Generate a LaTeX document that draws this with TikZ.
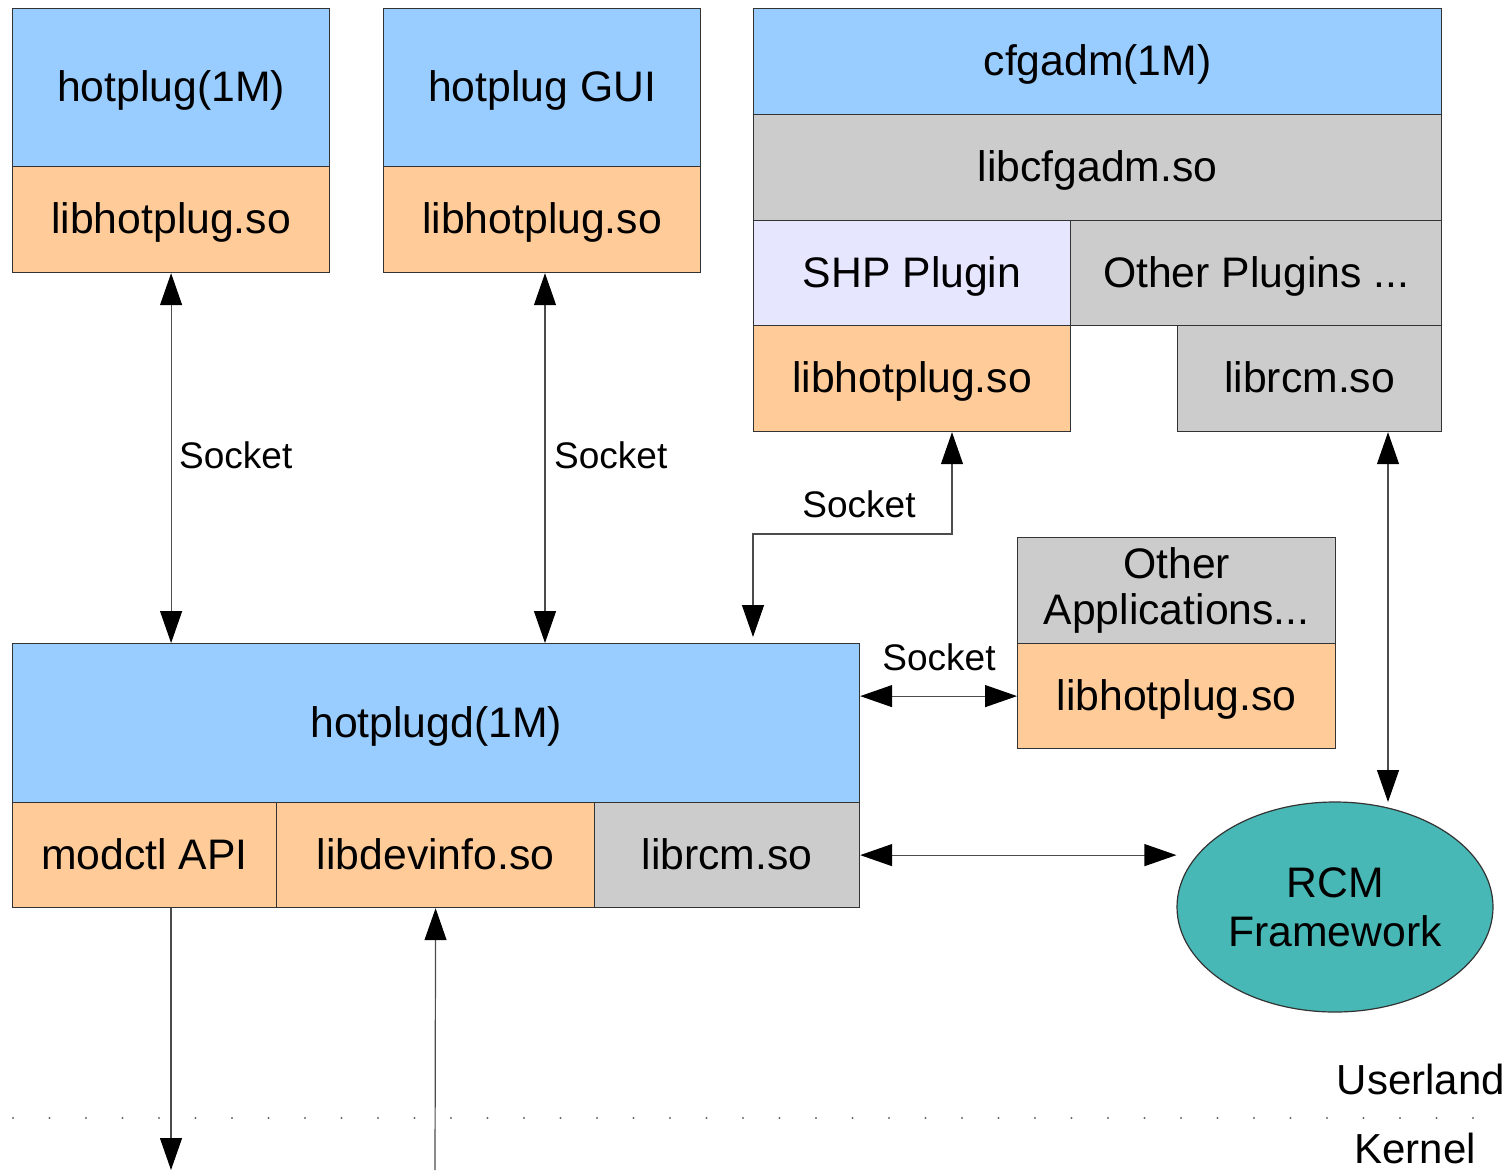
\documentclass[tikz,border=0pt]{standalone}
\usepackage{fontspec}
\setmainfont{Liberation Sans}
\usetikzlibrary{arrows.meta,positioning,shapes.geometric}
\definecolor{appBlue}{RGB}{153,204,255}
\definecolor{libOrange}{RGB}{255,204,153}
\definecolor{plugGray}{RGB}{204,204,204}
\definecolor{shpLilac}{RGB}{230,230,255}
\definecolor{rcmTeal}{RGB}{71,184,182}
\tikzset{
  layer/.style={draw=black!80, line width=1.2pt, inner sep=0pt, anchor=north west,
    align=center, font=\fontsize{42.7}{46}\selectfont},
  oneline/.style={layer, text height=37pt, text depth=9pt},
  link/.style={black!70, line width=1.2pt,
    {Triangle[length=32pt,width=22pt,color=black]}-{Triangle[length=32pt,width=22pt,color=black]}},
  oneway/.style={black!70, line width=1.2pt, -{Triangle[length=32pt,width=22pt,color=black]}},
  socklbl/.style={font=\fontsize{37}{40}\selectfont, inner sep=0pt},
  zonelbl/.style={font=\fontsize{42}{46}\selectfont, inner sep=0pt}
}
\begin{document}
\begin{tikzpicture}[x=1pt, y=-1pt]
    \useasboundingbox (0,0) rectangle (1509,1170);
    % hotplug(1M) and the GUI
    \node[oneline, fill=appBlue, minimum width=317pt, minimum height=158pt] (hpcmd) at (12,8) {hotplug(1M)};
    \node[oneline, fill=libOrange, minimum width=317pt, minimum height=106pt] (hplibA) at (12,166) {libhotplug.so};
    \node[oneline, fill=appBlue, minimum width=317pt, minimum height=158pt] (guicmd) at (383,8) {hotplug GUI};
    \node[oneline, fill=libOrange, minimum width=317pt, minimum height=106pt] (hplibB) at (383,166) {libhotplug.so};
    % cfgadm stack
    \node[oneline, fill=appBlue, minimum width=688pt, minimum height=106pt] (cfgcmd) at (753,8) {cfgadm(1M)};
    \node[oneline, fill=plugGray, minimum width=688pt, minimum height=106pt] (cfglib) at (753,114) {libcfgadm.so};
    \node[oneline, fill=shpLilac, minimum width=317pt, minimum height=105pt] (shp) at (753,220) {SHP Plugin};
    \node[oneline, fill=plugGray, minimum width=371pt, minimum height=105pt] (othplug) at (1070,220) {Other Plugins ...};
    \node[oneline, fill=libOrange, minimum width=317pt, minimum height=106pt] (shplib) at (753,325) {libhotplug.so};
    \node[oneline, fill=plugGray, minimum width=264pt, minimum height=106pt] (cfgrcm) at (1177,325) {librcm.so};
    % other applications
    \node[layer, fill=plugGray, minimum width=318pt, minimum height=106pt] (othapp) at (1017,537) {Other\\Applications...};
    \node[oneline, fill=libOrange, minimum width=318pt, minimum height=105pt] (oalib) at (1017,643) {libhotplug.so};
    % the daemon
    \node[oneline, fill=appBlue, minimum width=847pt, minimum height=159pt] (hpd) at (12,643) {hotplugd(1M)};
    \node[oneline, fill=libOrange, minimum width=264pt, minimum height=105pt] (modctl) at (12,802) {modctl API};
    \node[oneline, fill=libOrange, minimum width=318pt, minimum height=105pt] (devinfo) at (276,802) {libdevinfo.so};
    \node[oneline, fill=plugGray, minimum width=265pt, minimum height=105pt] (hpdrcm) at (594,802) {librcm.so};
    \node[ellipse, draw=black!80, line width=1.2pt, fill=rcmTeal, minimum width=316pt, minimum height=210pt,
      inner sep=0pt, align=center, font=\fontsize{42.7}{49}\selectfont] (rcm) at (1335,907) {RCM\\Framework};

    % free ends
    \coordinate (guitap) at (545,643);
    \coordinate (elbow) at (952,534);
    \coordinate (rcmtap) at (1388,802);
    \coordinate (kout) at (171,1170);
    \coordinate (kin) at (435,1170);

    % connectors
    \draw[link] (hplibA.south) -- (hplibA.south |- hpd.north);
    \draw[link] (guitap |- hplibB.south) -- (guitap);
    \draw[link, shorten >=6pt] (shplib.south -| elbow) -- (elbow) -| (hpd.north -| shplib.west);
    \draw[link] (hpd.east |- oalib.west) -- (oalib.west);
    \draw[link] (hpdrcm.east) -- (hpdrcm.east -| rcm.west);
    \draw[link] (rcmtap |- cfgrcm.south) -- (rcmtap);
    \draw[oneway] (kout |- modctl.south) -- (kout);
    \draw[oneway] (kin) -- (devinfo.south);

    \node[socklbl, anchor=west] (sockA) at (179,455) {Socket};
    \node[socklbl, anchor=west] (sockB) at (554,455) {Socket};
    \node[socklbl] (sockC) at (859,504) {Socket};
    \node[socklbl] (sockD) at (939,657) {Socket};

    % user / kernel boundary
    \foreach \i in {0,...,40}{
      \fill[black!60] ({13+36.5*\i},1118) circle (1.1pt);}
    \node[zonelbl, anchor=east] (user) at (1505,1079) {Userland};
    \node[zonelbl] (kern) at (1415,1148) {Kernel};
  \end{tikzpicture}
\end{document}
